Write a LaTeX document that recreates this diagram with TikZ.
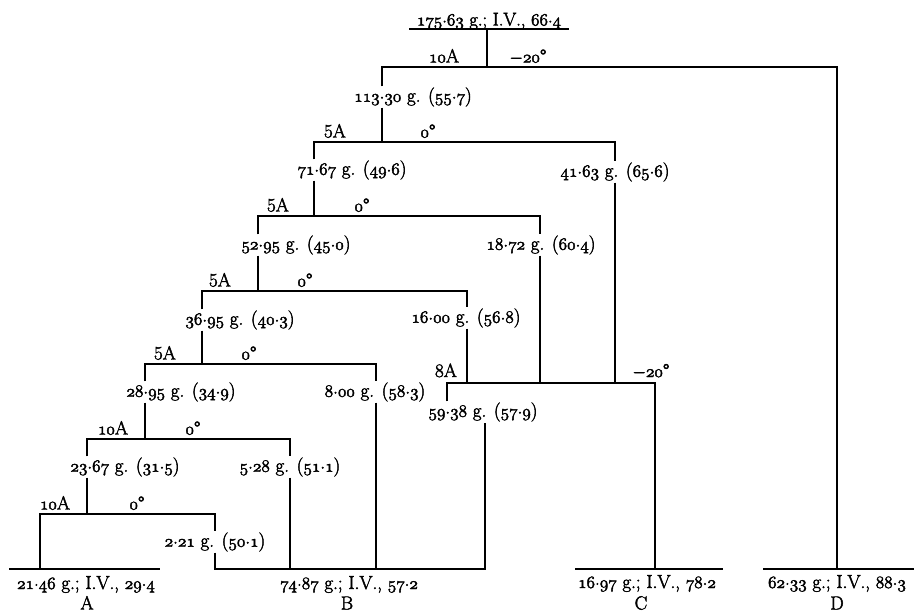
\documentclass[tikz,border=0pt]{standalone}
\usepackage{fontspec}
\newcommand\osn[1]{{\usefont{OML}{lmm}{m}{it}#1}}
\newcommand\mydot{\raisebox{0.17em}{.}}
\newcommand\dm[2]{\osn{#1}\mydot\osn{#2}}
\newcommand\heavier{\special{pdf:literal direct 2 Tr 0.45 w}}
\begin{document}
\begin{tikzpicture}[x=1pt,y=-1pt,
  every node/.style={font=\heavier\fontsize{19}{22}\selectfont, inner sep=1pt},
  ln/.style={line width=2.6pt, line cap=butt, line join=miter},
  sp/.style={anchor=base},
  bt/.style={anchor=base}]
\useasboundingbox (0,0) rectangle (914,613);
% top
\node[bt, font=\heavier\fontsize{18.5}{22}\selectfont] (top) at (489,25.5) {\dm{175}{63} g.; I.V., \dm{66}{4}};
\coordinate (ul1) at (409,29);
\coordinate (ul2) at (569,29);
\coordinate (j1) at (487,67);
\coordinate (a1) at (382,67);
\coordinate (d1) at (837,67);
\node[sp] (k1) at (444,62.5) {\osn{10}A};
\node[sp] (t1) at (528,62.5) {$-$\osn{20}°};
\draw[ln] (ul1) -- (ul2);
\draw[ln] (j1 |- ul1) -- (j1);
% labels
\node (L113) at (413,97) {\dm{113}{30} g. (\dm{55}{7})};
\node (L7167) at (352,170) {\dm{71}{67} g. (\dm{49}{6})};
\node (L4163) at (615,172) {\dm{41}{63} g. (\dm{65}{6})};
\node (L5295) at (296,245) {\dm{52}{95} g. (\dm{45}{0})};
\node (L1872) at (541,245) {\dm{18}{72} g. (\dm{60}{4})};
\node (L3695) at (240,320) {\dm{36}{95} g. (\dm{40}{3})};
\node (L1600) at (466,318) {\dm{16}{00} g. (\dm{56}{8})};
\node (L2895) at (181,392) {\dm{28}{95} g. (\dm{34}{9})};
\node (L800) at (375,392) {\dm{8}{00} g. (\dm{58}{3})};
\node (L2367) at (125,467) {\dm{23}{67} g. (\dm{31}{5})};
\node (L528) at (290,467) {\dm{5}{28} g. (\dm{51}{1})};
\node (L221) at (215,542) {\dm{2}{21} g. (\dm{50}{1})};
\node (L5938) at (483,412) {\dm{59}{38} g. (\dm{57}{9})};
% junction coordinates
\coordinate (j2) at (382,142);
\coordinate (b1) at (314,142);
\coordinate (c1) at (615,142);
\coordinate (b2) at (258,216);
\coordinate (c2) at (540,216);
\coordinate (b3) at (202,291);
\coordinate (c3) at (467,291);
\coordinate (b4) at (145,364);
\coordinate (c4) at (376,364);
\coordinate (b5) at (87,439);
\coordinate (c5) at (290,439);
\coordinate (b6) at (40,514);
\coordinate (c6) at (215,514);
\coordinate (m1) at (447,383);
\coordinate (m2) at (655,383);
\coordinate (m3) at (485,569);
% bottom
\coordinate (Al) at (9,569);
\coordinate (Ar) at (160,569);
\coordinate (Cl) at (575,569);
\coordinate (Cr) at (723,569);
\coordinate (Dl) at (763,569);
\coordinate (Dr) at (914,569);
\node[bt] (At) at (86,589) {\dm{21}{46} g.; I.V., \dm{29}{4}};
\node[bt] (Bt) at (349,589) {\dm{74}{87} g.; I.V., \dm{57}{2}};
\node[bt] (Ct) at (647,588) {\dm{16}{97} g.; I.V., \dm{78}{2}};
\node[bt] (Dt) at (837,588) {\dm{62}{33} g.; I.V., \dm{88}{3}};
\node[bt] (An) at (87,609.5) {A};
\node[bt] (Bn) at (347,609.5) {B};
\node[bt] (Cn) at (641,609.5) {C};
\node[bt] (Dn) at (837,609.5) {D};
% split labels
\node[sp] at (335,137.5) {5A};   \node[sp] at (428,137.5) {\osn{0}°};
\node[sp] at (278,211.5) {5A};   \node[sp] at (362,211.5) {\osn{0}°};
\node[sp] at (220,286.5) {5A};   \node[sp] at (305,286.5) {\osn{0}°};
\node[sp] at (165,359.5) {5A};   \node[sp] at (249,359.5) {\osn{0}°};
\node[sp] at (113,434.5) {\osn{10}A}; \node[sp] at (193,434.5) {\osn{0}°};
\node[sp] at (55,509.5) {\osn{10}A};  \node[sp] at (137,509.5) {\osn{0}°};
\node[sp] at (446,377) {8A};   \node[sp] at (651,377) {$-$\osn{20}°};
% lines
\draw[ln] (a1 |- L113.north) -- (a1) -- (d1) -- (d1 |- Dl);
\draw[ln] (Dl) -- (Dr);
\draw[ln] (j2 |- L113.south) -- (j2);
\draw[ln] (b1 |- L7167.north) -- (b1) -- (c1) -- (c1 |- L4163.north);
\draw[ln] (b1 |- L7167.south) -- (b2 -| b1);
\draw[ln] (c1 |- L4163.south) -- (c1 |- m1);
\draw[ln] (b2 |- L5295.north) -- (b2) -- (c2) -- (c2 |- L1872.north);
\draw[ln] (b2 |- L5295.south) -- (b3 -| b2);
\draw[ln] (c2 |- L1872.south) -- (c2 |- m1);
\draw[ln] (b3 |- L3695.north) -- (b3) -- (c3) -- (c3 |- L1600.north);
\draw[ln] (b3 |- L3695.south) -- (b4 -| b3);
\draw[ln] (c3 |- L1600.south) -- (c3 |- m1);
\draw[ln] (b4 |- L2895.north) -- (b4) -- (c4) -- (c4 |- L800.north);
\draw[ln] (b4 |- L2895.south) -- (b5 -| b4);
\draw[ln] (c4 |- L800.south) -- (c4 |- m3);
\draw[ln] (b5 |- L2367.north) -- (b5) -- (c5) -- (c5 |- L528.north);
\draw[ln] (b5 |- L2367.south) -- (b6 -| b5);
\draw[ln] (c5 |- L528.south) -- (c5 |- m3);
\draw[ln] (b6 |- Al) -- (b6) -- (c6) -- (c6 |- L221.north);
\draw[ln] (c6 |- L221.south) -- (c6 |- m3) -- (m3) -- (m3 |- L5938.south);
\draw[ln] (Al) -- (Ar);
\draw[ln] (m1 |- L5938.north) -- (m1) -- (m2) -- (m2 |- Cl);
\draw[ln] (Cl) -- (Cr);
\end{tikzpicture}
\end{document}
